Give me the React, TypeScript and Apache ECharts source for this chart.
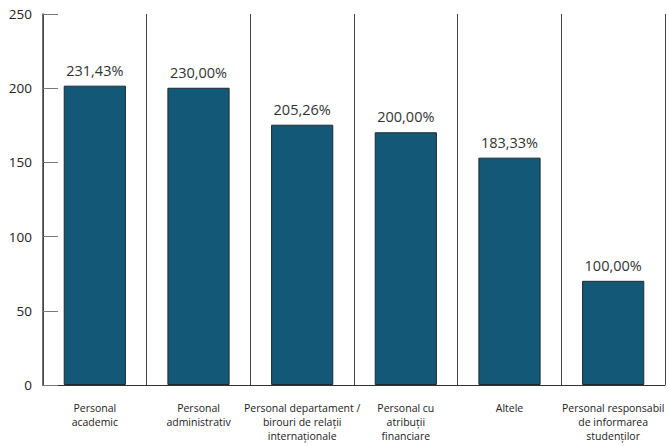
import React, { useEffect, useRef } from "react";
import * as echarts from "echarts";

const categories = [
  "Personal\nacademic",
  "Personal\nadministrativ",
  "Personal departament /\nbirouri de relații\ninternaționale",
  "Personal cu\natribuții\nfinanciare",
  "Altele",
  "Personal responsabil\nde informarea\nstudenților",
];
const values = [201.7, 200.3, 175.4, 170.3, 153.2, 70.2];
const valueLabels = ["231,43%", "230,00%", "205,26%", "200,00%", "183,33%", "100,00%"];
const yTicks = [0, 50, 100, 150, 200, 250];

export default function App() {
  const ref = useRef<HTMLDivElement>(null);
  useEffect(() => {
    if (!ref.current) return;
    const chart = echarts.init(ref.current, undefined, { renderer: "svg" });
    chart.setOption({
      animation: false,
      grid: { left: 43, right: 4, top: 14, bottom: 61, containLabel: false },
      xAxis: {
        type: "category",
        data: categories,
        boundaryGap: true,
        axisLine: { show: true, lineStyle: { color: "#333", width: 1 } },
        axisTick: { show: false },
        splitLine: { show: true, lineStyle: { color: "#444", width: 1 } },
        axisLabel: {
          interval: 0,
          margin: 16,
          fontFamily: "Open Sans",
          fontSize: 10.5,
          lineHeight: 14,
          color: "#222",
          align: "center",
        },
      },
      yAxis: {
        type: "value",
        min: yTicks[0],
        max: yTicks[yTicks.length - 1],
        interval: 50,
        axisLine: { show: true, lineStyle: { color: "#444", width: 1.5 } },
        axisTick: { show: true, inside: true, length: 15, lineStyle: { color: "#777", width: 1 } },
        splitLine: { show: false },
        axisLabel: {
          margin: 11,
          fontFamily: "Open Sans",
          fontSize: 13.5,
          color: "#222",
        },
      },
      series: [
        {
          type: "bar",
          data: values,
          barWidth: "60%",
          itemStyle: { color: "#145878", borderColor: "#1e2a30", borderWidth: 1 },
          label: {
            show: true,
            position: "top",
            distance: 8,
            fontFamily: "Open Sans",
            fontSize: 14.5,
            color: "#333",
            formatter: (p: any) => valueLabels[p.dataIndex],
          },
        },
      ],
    });
    return () => chart.dispose();
  }, []);
  return <div ref={ref} style={{ width: 669, height: 446, position: "fixed", left: 0, top: 0, background: "#fff" }} />;
}
